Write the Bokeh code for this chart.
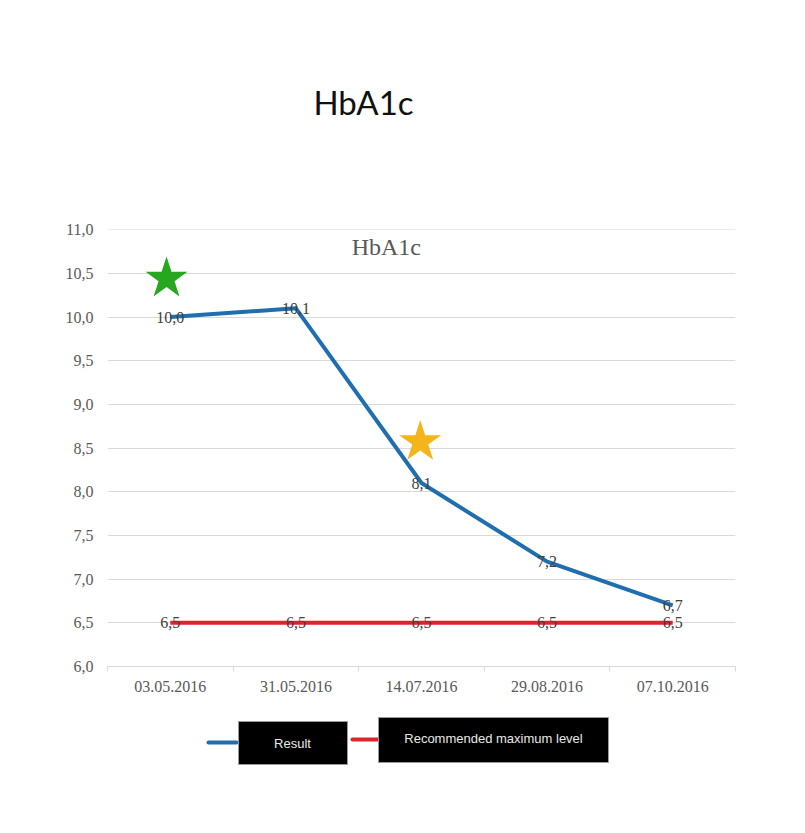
from bokeh.plotting import figure
from bokeh.models import Range1d, FixedTicker, CustomJSTickFormatter, Label, ColumnDataSource
from bokeh.layouts import column
from bokeh.embed import file_html
from bokeh.resources import INLINE
from bokeh.core.properties import value

# ---------------- data ----------------
dates = ["03.05.2016", "31.05.2016", "14.07.2016", "29.08.2016", "07.10.2016"]
result = [10.0, 10.1, 8.1, 7.2, 6.7]
recommended = [6.5, 6.5, 6.5, 6.5, 6.5]
y_ticks = [6.0, 6.5, 7.0, 7.5, 8.0, 8.5, 9.0, 9.5, 10.0, 10.5, 11.0]
star_pos = [0.47, 2.49]          # position in category units
star_vals = [10.44, 8.57]
star_colors = ["#27a61f", "#f3b51b"]
page_title = "HbA1c"
chart_title = "HbA1c"
legend_labels = ["Result", "Recommended maximum level"]

# ---------------- styles ----------------
BLUE = "#1f6eb0"
RED = "#df232b"
AXIS_GRAY = "#595959"
LABEL_GRAY = "#404040"
GRID = "#d9d9d9"
SERIF = "Liberation Serif"
W = 789
FRAME_L, FRAME_R = 107, 735   # page x of plot frame (shared by all rows)

def fmt(v):
    return f"{v:.1f}".replace(".", ",")

xs = [i + 0.5 for i in range(len(dates))]

def blank(height, y0, y1):
    f = figure(width=W, height=height, x_range=Range1d(FRAME_L, FRAME_R), y_range=Range1d(y1, y0),
               output_backend="svg", toolbar_location=None, min_border=0,
               min_border_left=FRAME_L, min_border_right=W - FRAME_R)
    f.axis.visible = False
    f.grid.visible = False
    f.outline_line_color = None
    return f

# ---------------- top title ----------------
top = blank(170, 0, 170)
top.text(x=[363], y=[101], text=[page_title], text_align="center", text_baseline="middle",
         text_font=value("Lato"), text_font_size="33px", text_color="#111111")

# ---------------- main chart ----------------
p = figure(width=W, height=538, x_range=Range1d(0, len(dates)), y_range=Range1d(6.0, 11.002),
           output_backend="svg", toolbar_location=None,
           min_border_left=FRAME_L, min_border_right=W - FRAME_R, min_border_top=59, min_border_bottom=42)
p.outline_line_color = None
p.xgrid.visible = False
p.ygrid.ticker = FixedTicker(ticks=y_ticks)
p.ygrid.grid_line_color = GRID
p.ygrid.grid_line_width = 1

p.yaxis.ticker = FixedTicker(ticks=y_ticks)
p.yaxis.formatter = CustomJSTickFormatter(code="return tick.toFixed(1).replace('.', ',')")
p.yaxis.axis_line_color = None
p.yaxis.major_tick_line_color = None
p.yaxis.minor_tick_line_color = None
p.yaxis.major_tick_out = 0
p.yaxis.major_tick_in = 0
p.yaxis.major_label_standoff = 14
p.yaxis.major_label_text_font = SERIF
p.yaxis.major_label_text_font_size = "16px"
p.yaxis.major_label_text_color = AXIS_GRAY

p.xaxis.ticker = FixedTicker(ticks=xs, minor_ticks=list(range(len(dates) + 1)))
p.xaxis.formatter = CustomJSTickFormatter(args=dict(labels=dates),
                                          code="return labels[Math.floor(tick)]")
p.xaxis.major_tick_line_color = None
p.xaxis.major_tick_out = 0
p.xaxis.major_tick_in = 0
p.xaxis.minor_tick_line_color = GRID
p.xaxis.minor_tick_out = 5
p.xaxis.minor_tick_in = 0
p.xaxis.axis_line_color = GRID
p.xaxis.major_label_standoff = 9
p.xaxis.major_label_text_font = SERIF
p.xaxis.major_label_text_font_size = "16px"
p.xaxis.major_label_text_color = AXIS_GRAY

src = ColumnDataSource(dict(x=xs, result=result, rec=recommended,
                            rlab=[fmt(v) for v in result], clab=[fmt(v) for v in recommended]))
p.line("x", "rec", source=src, line_width=4, line_color=RED)
p.line("x", "result", source=src, line_width=4, line_color=BLUE, line_join="round")
p.text("x", "rec", text="clab", source=src, text_align="center", text_baseline="middle",
       text_font=value(SERIF), text_font_size="16px", text_color=LABEL_GRAY)
p.text("x", "result", text="rlab", source=src, text_align="center", text_baseline="middle",
       text_font=value(SERIF), text_font_size="16px", text_color=LABEL_GRAY)
p.scatter(star_pos, star_vals, marker="star", size=44, fill_color=star_colors, line_color=None)

p.add_layout(Label(x=2.22, y=10.805, text=chart_title, text_align="center", text_baseline="middle",
                   text_font=SERIF, text_font_size="24px", text_color=AXIS_GRAY))

# ---------------- legend ----------------
leg = blank(100, 708, 808)
leg.segment(x0=[208, 352], y0=[742, 739], x1=[236, 377], y1=[742, 739],
            line_color=[BLUE, RED], line_width=4, line_cap="round")
leg.quad(left=[238, 378], right=[347, 608], top=[721, 717], bottom=[764, 762],
         fill_color="black", line_color="#9a9a9a", line_width=1)
leg.text(x=[292, 493], y=[743, 738], text=legend_labels, text_align="center",
         text_baseline="middle", text_font=value("Liberation Sans"), text_font_size="13px",
         text_color="#e8e8e8")

layout = column(top, p, leg)
open("out.html", "w").write(file_html(layout, INLINE))
